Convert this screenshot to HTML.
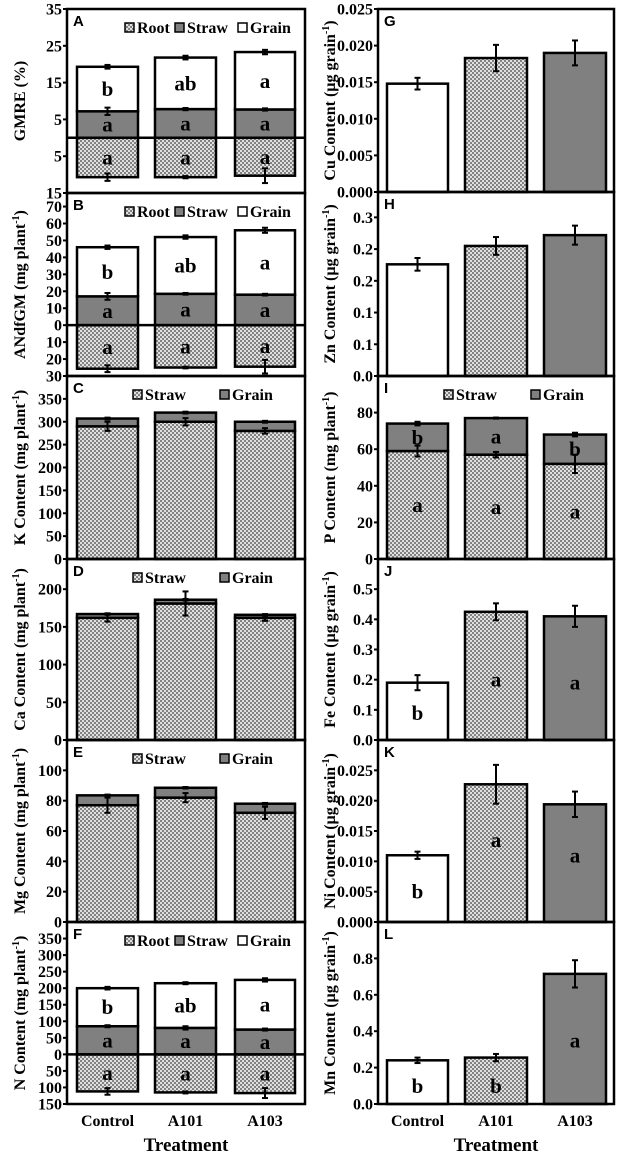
<!DOCTYPE html>
<html><head><meta charset="utf-8">
<style>
html,body{margin:0;padding:0;background:#fff;}
svg{display:block;}
text{font-family:"Liberation Serif",serif;font-weight:bold;fill:#000;}
.sans{font-family:"Liberation Sans",sans-serif;}
</style></head>
<body>
<svg id="fig" width="620" height="1155" viewBox="0 0 620 1155" xmlns="http://www.w3.org/2000/svg">
<defs>
<pattern id="hatch" width="4" height="4" patternUnits="userSpaceOnUse">
<rect width="4" height="4" fill="#e0e0e0"/>
<rect x="0" y="0" width="2" height="2" fill="#828282"/>
<rect x="2" y="2" width="2" height="2" fill="#828282"/>
</pattern>
</defs>
</svg>
<script>
const categories = ["Control","A101","A103"];
// A GMRE
const aStraw=[7.2,7.8,7.7], aGrain=[12.1,14.0,15.6], aRoot=[10.7,10.7,10.3];
const aStrawErr=[1,0.3,0.3], aGrainErr=[0.5,0.5,0.6], aRootErr=[1,0.3,2];
// B ANdfGM
const bStraw=[17,18.5,18], bGrain=[29,33.5,38], bRoot=[25.7,25,24.5];
const bStrawErr=[2,0.5,0.5], bGrainErr=[1,1,1.5], bRootErr=[2,0.5,4];
// C K
const cStraw=[290,300,280], cGrain=[17,20,20];
const cStrawErr=[10,8,6], cGrainErr=[2,2,2];
// D Ca
const dStraw=[162,181,162], dGrain=[5,5,4];
const dStrawErr=[5,16,4], dGrainErr=[1,1,1];
// E Mg
const eStraw=[77,82,72], eGrain=[6.5,6.5,6];
const eStrawErr=[5,3,4], eGrainErr=[0.5,0.5,0.5];
// F N
const fStraw=[85,80,75], fGrain=[115,135,150], fRoot=[112,115,117];
const fStrawErr=[3,5,3], fGrainErr=[4,3,5], fRootErr=[10,3,15];
// I P
const iStraw=[59,57,52], iGrain=[15,20,16];
const iStrawErr=[3,1.5,5], iGrainErr=[1,0.3,1];
// single bars
const gVals=[0.0148,0.0183,0.019], gErr=[0.0008,0.0018,0.0017];
const hVals=[0.176,0.205,0.222], hErr=[0.01,0.014,0.015];
const jVals=[0.19,0.425,0.41], jErr=[0.025,0.028,0.035];
const kVals=[0.011,0.0227,0.0194], kErr=[0.0006,0.0032,0.0021];
const lVals=[0.24,0.255,0.715], lErr=[0.015,0.02,0.075];
// tick labels
const aTicks=[35,25,15,5,-5,-15], aTickLabels=["35","25","15","5","5","15"];
const bTicks=[70,60,50,40,30,20,10,0,-10,-20,-30], bTickLabels=["70","60","50","40","30","20","10","0","10","20","30"];
const cTicks=[0,50,100,150,200,250,300,350];
const dTicks=[0,50,100,150,200];
const eTicks=[0,20,40,60,80,100];
const fTicks=[350,300,250,200,150,100,50,0,-50,-100,-150], fTickLabels=["350","300","250","200","150","100","50","0","50","100","150"];
const gTicks=[0,0.005,0.01,0.015,0.02,0.025], gTickLabels=["0.000","0.005","0.010","0.015","0.020","0.025"];
const hTicks=[0,0.05,0.1,0.15,0.2,0.25], hTickLabels=["0.0","0.1","0.1","0.2","0.2","0.3"];
const iTicks=[0,20,40,60,80];
const jTicks=[0,0.1,0.2,0.3,0.4,0.5], jTickLabels=["0.0","0.1","0.2","0.3","0.4","0.5"];
const kTicks=[0,0.005,0.01,0.015,0.02,0.025], kTickLabels=["0.000","0.005","0.010","0.015","0.020","0.025"];
const lTicks=[0,0.2,0.4,0.6,0.8], lTickLabels=["0.0","0.2","0.4","0.6","0.8"];

const NS="http://www.w3.org/2000/svg";
const svg=document.getElementById('fig');
function mk(tag,attrs,parent){const e=document.createElementNS(NS,tag);for(const k in attrs)e.setAttribute(k,attrs[k]);(parent||svg).appendChild(e);return e;}
const LEFT={x0:67,x1:305,bars:[[77,138],[155,216],[235,295]],lab:62,title:25};
const RIGHT={x0:378,x1:614,bars:[[387,448],[465,527],[544,606]],lab:373,title:335};

function panel(cfg){
  const col=cfg.col, g=mk('g',{});
  
  
  const y=v=>cfg.y1-(v-cfg.vmin)/(cfg.vmax-cfg.vmin)*(cfg.y1-cfg.y0);
  const rect=(v0,v1,i,fill,name)=>{const [a,b]=col.bars[i];const r=mk('rect',{x:a,y:Math.min(y(v0),y(v1)),width:b-a,height:Math.abs(y(v0)-y(v1)),fill:fill,stroke:'#000','stroke-width':2.5},g);
    
    };
  const err=(v,e,i)=>{const [a,b]=col.bars[i];const cx=(a+b)/2;const eb=mk('g',{},g);
    
    
    mk('line',{x1:cx,x2:cx,y1:y(v-e),y2:y(v+e),stroke:'#000','stroke-width':2},eb);
    mk('line',{x1:cx-3,x2:cx+3,y1:y(v-e),y2:y(v-e),stroke:'#000','stroke-width':2},eb);
    mk('line',{x1:cx-3,x2:cx+3,y1:y(v+e),y2:y(v+e),stroke:'#000','stroke-width':2},eb);};
  const letter=(v,t,i)=>{const [a,b]=col.bars[i];const tx=mk('text',{x:(a+b)/2,y:y(v)+7,'text-anchor':'middle','font-size':21},g);tx.textContent=t;
    
    };
  for(let i=0;i<3;i++){
    if(cfg.single){
      const fills=['#fff','url(#hatch)','#808080'];
      rect(0,cfg.single[i],i,fills[i],'bar-'+categories[i].toLowerCase());
      err(cfg.single[i],cfg.singleErr[i],i);
      if(cfg.letters) letter(cfg.letterPos[i],cfg.letters[i],i);
    } else {
      const s=cfg.straw[i], gr=cfg.grain[i];
      if(cfg.root){rect(-cfg.root[i],0,i,'url(#hatch)','bar-root-'+categories[i].toLowerCase());}
      const strawFill=cfg.root?'#808080':'url(#hatch)';
      const grainFill=cfg.root?'#fff':'#808080';
      rect(0,s,i,strawFill,'bar-straw-'+categories[i].toLowerCase());
      rect(s,s+gr,i,grainFill,'bar-grain-'+categories[i].toLowerCase());
      err(s,cfg.strawErr[i],i);
      err(s+gr,cfg.grainErr[i],i);
      if(cfg.root){err(-cfg.root[i],cfg.rootErr[i],i);}
      if(cfg.lettersGrain) letter(s+gr/2,cfg.lettersGrain[i],i);
      if(cfg.lettersStraw) letter(s/2,cfg.lettersStraw[i],i);
      if(cfg.lettersRoot) letter(-cfg.root[i]/2,cfg.lettersRoot[i],i);
    }
  }
  if(cfg.root){const zl=mk('line',{x1:col.x0,x2:col.x1,y1:y(0),y2:y(0),stroke:'#000','stroke-width':2.5},g);
    
    }
  const fr=mk('rect',{x:col.x0,y:cfg.y0,width:col.x1-col.x0,height:cfg.y1-cfg.y0,fill:'none',stroke:'#000','stroke-width':2.5},g);
  
  
  cfg.ticks.forEach((t,k)=>{const ty=y(t);
    mk('line',{x1:col.x0-4,x2:col.x0,y1:ty,y2:ty,stroke:'#000','stroke-width':2},g);
    const tl=mk('text',{x:col.lab,y:ty+5.5,'text-anchor':'end','font-size':16},g);
    tl.textContent=cfg.tickLabels?cfg.tickLabels[k]:String(t);
    
    });
  const pl=mk('text',{x:col.x0+6,y:cfg.y0+17,'font-size':15,class:'sans'},g);pl.textContent=cfg.id;
  
  
  const cy=(cfg.y0+cfg.y1)/2;
  const tt=mk('text',{x:0,y:0,'text-anchor':'middle','font-size':16,transform:`translate(${col.title},${cy}) rotate(-90)`},g);
  tt.innerHTML=cfg.title;
  
  
  if(cfg.legend){
    const lg=mk('g',{},g);
    
    
    const ly=cfg.y0+24;
    cfg.legend.forEach(([lx,fill,label])=>{
      mk('rect',{x:lx,y:ly-10,width:9,height:9,fill:fill,stroke:'#000','stroke-width':1.5},lg);
      const lt=mk('text',{x:lx+12,y:ly,'font-size':16},lg);lt.textContent=label;
      
      
    });
  }
}
const leg3=[[125,'url(#hatch)','Root'],[175,'#808080','Straw'],[238,'#fff','Grain']];
const leg2=[[133,'url(#hatch)','Straw'],[220,'#808080','Grain']];
const leg2r=[[444,'url(#hatch)','Straw'],[531,'#808080','Grain']];
const sup=(a,b)=>`${a}<tspan dy="-6" font-size="10">${b}</tspan><tspan dy="6">)</tspan>`;

panel({id:'A',col:LEFT,y0:9,y1:193,vmin:-15,vmax:35,ticks:aTicks,tickLabels:aTickLabels,straw:aStraw,grain:aGrain,root:aRoot,strawErr:aStrawErr,grainErr:aGrainErr,rootErr:aRootErr,lettersGrain:['b','ab','a'],lettersStraw:['a','a','a'],lettersRoot:['a','a','a'],legend:leg3,title:'GMRE (%)'});
panel({id:'B',col:LEFT,y0:193,y1:376,vmin:-30,vmax:78,ticks:bTicks,tickLabels:bTickLabels,straw:bStraw,grain:bGrain,root:bRoot,strawErr:bStrawErr,grainErr:bGrainErr,rootErr:bRootErr,lettersGrain:['b','ab','a'],lettersStraw:['a','a','a'],lettersRoot:['a','a','a'],legend:leg3,title:sup('ANdfGM (mg plant','-1')});
panel({id:'C',col:LEFT,y0:376,y1:559,vmin:0,vmax:400,ticks:cTicks,straw:cStraw,grain:cGrain,strawErr:cStrawErr,grainErr:cGrainErr,legend:leg2,title:sup('K Content (mg plant','-1')});
panel({id:'D',col:LEFT,y0:559,y1:740,vmin:0,vmax:240,ticks:dTicks,straw:dStraw,grain:dGrain,strawErr:dStrawErr,grainErr:dGrainErr,legend:leg2,title:sup('Ca Content (mg plant','-1')});
panel({id:'E',col:LEFT,y0:740,y1:922,vmin:0,vmax:120,ticks:eTicks,straw:eStraw,grain:eGrain,strawErr:eStrawErr,grainErr:eGrainErr,legend:leg2,title:sup('Mg Content (mg plant','-1')});
panel({id:'F',col:LEFT,y0:922,y1:1104,vmin:-150,vmax:400,ticks:fTicks,tickLabels:fTickLabels,straw:fStraw,grain:fGrain,root:fRoot,strawErr:fStrawErr,grainErr:fGrainErr,rootErr:fRootErr,lettersGrain:['b','ab','a'],lettersStraw:['a','a','a'],lettersRoot:['a','a','a'],legend:leg3,title:sup('N Content (mg plant','-1')});

panel({id:'G',col:RIGHT,y0:9,y1:192,vmin:0,vmax:0.025,ticks:gTicks,tickLabels:gTickLabels,single:gVals,singleErr:gErr,title:sup('Cu Content (µg grain','-1')});
panel({id:'H',col:RIGHT,y0:192,y1:376,vmin:0,vmax:0.29,ticks:hTicks,tickLabels:hTickLabels,single:hVals,singleErr:hErr,title:sup('Zn Content (µg grain','-1')});
panel({id:'I',col:RIGHT,y0:376,y1:559,vmin:0,vmax:100,ticks:iTicks,straw:iStraw,grain:iGrain,strawErr:iStrawErr,grainErr:iGrainErr,lettersGrain:['b','a','b'],lettersStraw:['a','a','a'],legend:leg2r,title:sup('P Content (mg plant','-1')});
panel({id:'J',col:RIGHT,y0:559,y1:740,vmin:0,vmax:0.6,ticks:jTicks,tickLabels:jTickLabels,single:jVals,singleErr:jErr,letters:['b','a','a'],letterPos:[0.09,0.2,0.19],title:sup('Fe Content (µg grain','-1')});
panel({id:'K',col:RIGHT,y0:740,y1:922,vmin:0,vmax:0.03,ticks:kTicks,tickLabels:kTickLabels,single:kVals,singleErr:kErr,letters:['b','a','a'],letterPos:[0.005,0.0135,0.011],title:sup('Ni Content (µg grain','-1')});
panel({id:'L',col:RIGHT,y0:922,y1:1104,vmin:0,vmax:1.0,ticks:lTicks,tickLabels:lTickLabels,single:lVals,singleErr:lErr,letters:['b','b','a'],letterPos:[0.1,0.1,0.35],title:sup('Mn Content (µg grain','-1')});

[LEFT,RIGHT].forEach(col=>{
  categories.forEach((c,i)=>{const [a,b]=col.bars[i];
    const t=mk('text',{x:(a+b)/2,y:1126,'text-anchor':'middle','font-size':16});t.textContent=c;
    
    });
  const xt=mk('text',{x:(col.x0+col.x1)/2,y:1151,'text-anchor':'middle','font-size':19});xt.textContent='Treatment';
  
  
});
</script>
</body></html>
